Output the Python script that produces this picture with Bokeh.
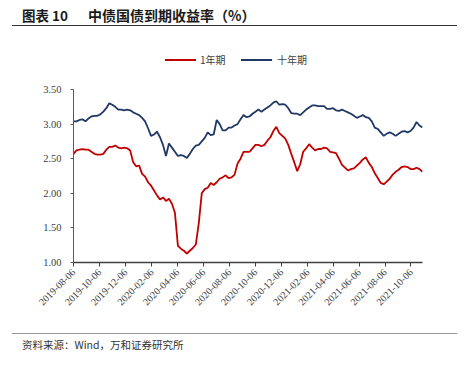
import pandas as pd
from bokeh.plotting import figure
from bokeh.layouts import column
from bokeh.models import (Range1d, FixedTicker, DatetimeTickFormatter, PrintfTickFormatter, Div)
from bokeh.embed import file_html
from bokeh.resources import INLINE
from math import pi

# ---- data (weekly readings from the chart) ----
start_date = "2019-08-06"
one_year = [2.57, 2.62, 2.63, 2.64, 2.63, 2.63, 2.60, 2.57, 2.56, 2.56,
            2.57, 2.63, 2.67, 2.67, 2.69, 2.66, 2.65, 2.66, 2.65, 2.62,
            2.45, 2.39, 2.40, 2.28, 2.24, 2.16, 2.11, 2.04, 1.97, 1.91,
            1.94, 1.89, 1.92, 1.85, 1.72, 1.24, 1.20, 1.17, 1.13, 1.17,
            1.21, 1.26, 1.57, 2.00, 2.06, 2.08, 2.15, 2.12, 2.16, 2.21,
            2.23, 2.26, 2.22, 2.23, 2.27, 2.43, 2.50, 2.60, 2.60, 2.60,
            2.65, 2.70, 2.70, 2.68, 2.70, 2.76, 2.81, 2.90, 2.96, 2.87,
            2.83, 2.79, 2.70, 2.57, 2.45, 2.32, 2.42, 2.60, 2.65, 2.71,
            2.66, 2.62, 2.64, 2.64, 2.66, 2.65, 2.60, 2.59, 2.58, 2.50,
            2.41, 2.37, 2.33, 2.35, 2.36, 2.40, 2.44, 2.49, 2.52, 2.44,
            2.38, 2.29, 2.22, 2.15, 2.13, 2.17, 2.21, 2.27, 2.31, 2.34,
            2.38, 2.39, 2.38, 2.35, 2.35, 2.37, 2.35, 2.31]
ten_year = [3.04, 3.04, 3.06, 3.07, 3.04, 3.08, 3.11, 3.12, 3.12, 3.14,
            3.18, 3.23, 3.30, 3.28, 3.25, 3.21, 3.21, 3.20, 3.21, 3.20,
            3.17, 3.15, 3.13, 3.09, 3.04, 2.94, 2.83, 2.85, 2.89, 2.81,
            2.70, 2.54, 2.72, 2.66, 2.60, 2.54, 2.55, 2.54, 2.51, 2.57,
            2.64, 2.69, 2.70, 2.75, 2.80, 2.88, 2.84, 2.85, 3.06, 3.00,
            2.91, 2.91, 2.95, 2.95, 2.98, 3.00, 3.07, 3.13, 3.10, 3.11,
            3.15, 3.18, 3.21, 3.18, 3.21, 3.24, 3.27, 3.31, 3.33, 3.28,
            3.29, 3.28, 3.23, 3.16, 3.15, 3.15, 3.13, 3.17, 3.21, 3.24,
            3.27, 3.27, 3.26, 3.26, 3.26, 3.22, 3.22, 3.23, 3.20, 3.19,
            3.21, 3.19, 3.17, 3.15, 3.12, 3.09, 3.11, 3.13, 3.10, 3.09,
            3.04, 2.95, 2.93, 2.88, 2.83, 2.86, 2.88, 2.86, 2.83, 2.86,
            2.89, 2.90, 2.88, 2.90, 2.95, 3.03, 2.98, 2.95]
tick_labels = ["2019-08-06", "2019-10-06", "2019-12-06", "2020-02-06", "2020-04-06",
               "2020-06-06", "2020-08-06", "2020-10-06", "2020-12-06", "2021-02-06",
               "2021-04-06", "2021-06-06", "2021-08-06", "2021-10-06"]
y_ticks = [1.00, 1.50, 2.00, 2.50, 3.00, 3.50]
series_names = ["1年期", "十年期"]
title_num = "图表 10"
title_text = "中债国债到期收益率（%）"
source_text = "资料来源：Wind，万和证券研究所"

dates = pd.date_range(start_date, periods=len(one_year), freq="7D")
tick_ms = [pd.Timestamp(t).value / 1e6 for t in tick_labels]

RED = "#C00000"
BLUE = "#1F3864"
SERIF = "Liberation Serif"
CJK = "'Noto Sans CJK SC'"
W = 458


def span(left, top, text, size, weight="normal", color="#1a1a1a", lh=18):
    return (f'<span style="position:absolute;left:{left}px;top:{top}px;font-family:{CJK};'
            f'font-weight:{weight};font-size:{size};line-height:{lh}px;color:{color};'
            f'white-space:nowrap;">{text}</span>')


def rule(left, top, width, px, color):
    return (f'<div style="position:absolute;left:{left}px;top:{top}px;width:{width}px;height:0;'
            f'border-top:{px}px solid {color};"></div>')


# ---- header: title, rule, legend ----
head_html = (
    f'<div style="position:relative;width:{W}px;height:70px;">'
    + span(22, 6, title_num, "13.5px", "bold")
    + span(88, 6, title_text, "14px", "bold")
    + rule(12, 25, 445, 1.2, "#333333")
    + rule(165, 59, 31, 2, RED)
    + span(200, 53, series_names[0], "10px", color="#404040", lh=14)
    + rule(241, 59, 31, 2, BLUE)
    + span(277, 53, series_names[1], "10px", color="#404040", lh=14)
    + '</div>'
)
head = Div(text=head_html, width=W, height=70, margin=0)

# ---- main chart ----
p = figure(width=W, height=250, output_backend="svg", toolbar_location=None,
           x_axis_type="datetime",
           x_range=Range1d(dates[0], dates[-1]), y_range=Range1d(1.0, 3.5),
           min_border_left=73, min_border_right=36, min_border_top=19, min_border_bottom=58,
           margin=0)
p.outline_line_color = None
p.xgrid.visible = False
p.ygrid.visible = False

p.line(dates, one_year, color=RED, line_width=1.8, legend_label=series_names[0])
p.line(dates, ten_year, color=BLUE, line_width=1.8, legend_label=series_names[1])
p.legend.visible = False

xa = p.xaxis[0]
xa.ticker = FixedTicker(ticks=tick_ms)
fmt = "%Y-%m-%d"
xa.formatter = DatetimeTickFormatter(days=fmt, months=fmt, years=fmt, hours=fmt, minutes=fmt,
                                     seconds=fmt, milliseconds=fmt, microseconds=fmt,
                                     hourmin=fmt, minsec=fmt)
xa.major_label_orientation = pi / 4
xa.axis_line_color = "#404040"
xa.axis_line_width = 1.5
xa.major_tick_line_color = "#404040"
xa.major_tick_out = 4
xa.major_tick_in = 0
xa.minor_tick_line_color = None
xa.major_label_text_font = SERIF
xa.major_label_text_font_size = "10px"
xa.major_label_text_color = "#404040"
xa.major_label_standoff = 4

ya = p.yaxis[0]
ya.ticker = FixedTicker(ticks=y_ticks)
ya.formatter = PrintfTickFormatter(format="%.2f")
ya.axis_line_color = "#595959"
ya.axis_line_width = 1
ya.major_tick_line_color = "#595959"
ya.major_tick_out = 3
ya.major_tick_in = 0
ya.minor_tick_line_color = None
ya.major_label_text_font = SERIF
ya.major_label_text_font_size = "10.5px"
ya.major_label_text_color = "#404040"
ya.major_label_standoff = 9

# ---- footer: rule and source ----
foot_html = (
    f'<div style="position:relative;width:{W}px;height:40px;">'
    + rule(12, 13, 445, 1.6, "#999999")
    + span(22, 17, source_text, "10.5px", color="#333333", lh=16)
    + '</div>'
)
foot = Div(text=foot_html, width=W, height=40, margin=0)

layout = column(head, p, foot, spacing=0)
open("out.html", "w").write(file_html(layout, INLINE))
